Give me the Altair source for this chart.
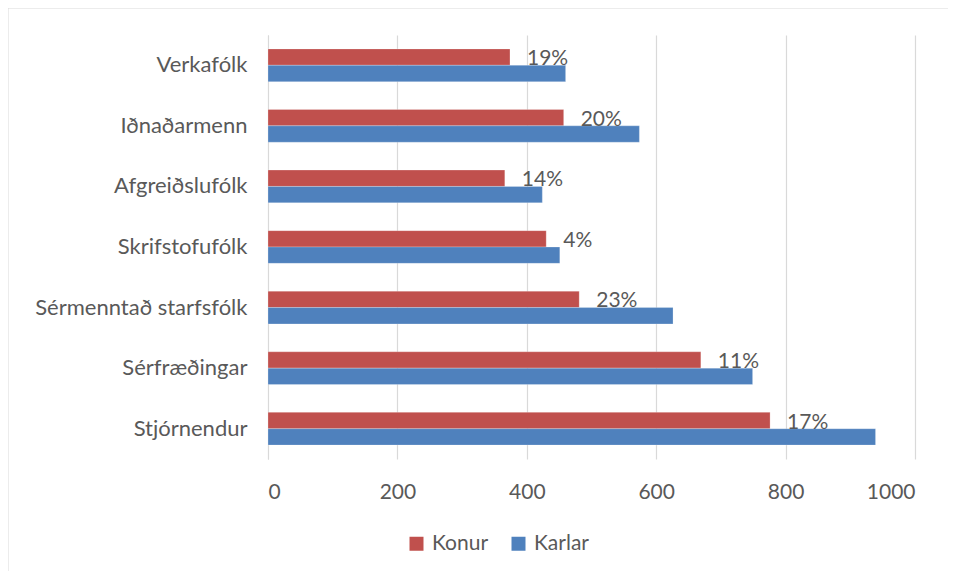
import altair as alt
import pandas as pd

categories = ["Verkafólk", "Iðnaðarmenn", "Afgreiðslufólk", "Skrifstofufólk",
              "Sérmenntað starfsfólk", "Sérfræðingar", "Stjórnendur"]
konur = [374, 457, 366, 430, 481, 669, 776]
karlar = [460, 574, 424, 451, 626, 749, 939]
pct_labels = ["19%", "20%", "14%", "4%", "23%", "11%", "17%"]
series = ["Konur", "Karlar"]
colors = ["#C0504D", "#4F81BD"]

rows = []
for c, k, m in zip(categories, konur, karlar):
    rows.append({"cat": c, "series": "Konur", "value": k})
    rows.append({"cat": c, "series": "Karlar", "value": m})
df = pd.DataFrame(rows)
lab = pd.DataFrame({"cat": categories, "series": ["Konur"] * len(categories),
                    "value": konur, "label": pct_labels})

W, H = 647, 424
FONT = "Lato"
TXT = "#595959"

y_enc = alt.Y("cat:N", sort=categories, title=None,
              scale=alt.Scale(paddingInner=0.46, paddingOuter=0.23),
              axis=alt.Axis(labelFont=FONT, labelFontSize=22, labelColor=TXT,
                            labelPadding=21, labelLimit=400, ticks=False,
                            domainColor="#D9D9D9", domainWidth=1, grid=False))
x_enc = alt.X("value:Q", title=None,
              scale=alt.Scale(domain=[0, 1000], nice=False),
              axis=alt.Axis(values=[0, 200, 400, 600, 800, 1000], format="d",
                            labelFont=FONT, labelFontSize=21, labelColor=TXT,
                            labelPadding=22, ticks=False, domain=False,
                            gridColor="#D9D9D9", gridWidth=1.2))
yoff = alt.YOffset("series:N", sort=series, scale=alt.Scale(paddingInner=0, paddingOuter=0))

bars = alt.Chart(df).mark_bar(stroke="white", strokeWidth=0.4, strokeOpacity=0.6).encode(
    y=y_enc, x=x_enc, yOffset=yoff,
    color=alt.Color("series:N", sort=series,
                    scale=alt.Scale(domain=series, range=colors),
                    legend=alt.Legend(title=None, orient="none", legendX=138, legendY=498,
                                      direction="horizontal", symbolType="square",
                                      symbolSize=196, symbolStrokeWidth=0,
                                      labelFont=FONT, labelFontSize=21, labelColor=TXT,
                                      labelOffset=5, columnPadding=19)),
)

text = alt.Chart(lab).mark_text(align="left", baseline="middle", dx=17, dy=2,
                                font=FONT, fontSize=21, color=TXT).encode(
    y=alt.Y("cat:N", sort=categories), x="value:Q",
    yOffset=alt.YOffset("series:N", sort=series, scale=alt.Scale(domain=series)),
    text="label:N",
)

border_v = alt.Chart(pd.DataFrame({"a": [0]})).mark_rule(color="#D9D9D9", strokeWidth=1).encode(
    x=alt.value(-260), y=alt.value(-27), y2=alt.value(H + 120))
border_h = alt.Chart(pd.DataFrame({"a": [0]})).mark_rule(color="#D9D9D9", strokeWidth=1).encode(
    y=alt.value(-27), x=alt.value(-260), x2=alt.value(W + 40))

chart = alt.layer(bars, text, border_v, border_h).properties(
    width=W, height=H,
    background="white",
    autosize=alt.AutoSizeParams(type="none"),
    padding={"left": 260, "top": 27, "right": 33, "bottom": 112},
).configure_view(stroke=None)

chart.save("out.html", embed_options={"renderer": "svg", "actions": False})
